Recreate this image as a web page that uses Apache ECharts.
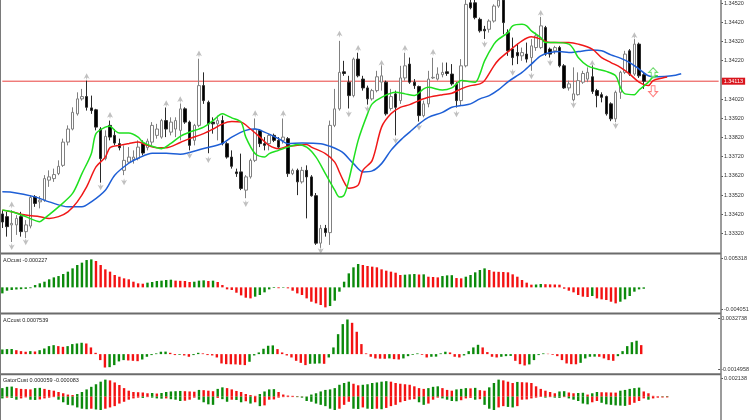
<!DOCTYPE html>
<html lang="en">
<head>
<meta charset="UTF-8">
<title>Alligator chart</title>
<style>
  html, body { margin: 0; padding: 0; background: #fff; }
  #main { width: 752px; height: 420px; }
</style>
</head>
<body>
<div id="main"></div>
<script src="https://cdn.jsdelivr.net/npm/echarts@6.0.0/dist/echarts.min.js"></script>
<script>
// ---- price candles (one per bar) ----
var opens = [1.33422,1.33408,1.33365,1.33365,1.33408,1.33330,1.33359,1.33511,1.33485,1.33494,
  1.33598,1.33606,1.33632,1.33675,1.33796,1.33864,1.33943,1.34021,1.34033,1.33974,
  1.33964,1.33864,1.33710,1.33883,1.33831,1.33788,1.33649,1.33692,1.33705,1.33710,
  1.33788,1.33767,1.33796,1.33831,1.33822,1.33908,1.33848,1.33864,1.33857,1.33969,
  1.33900,1.33805,1.33883,1.34090,1.34003,1.33900,1.33891,1.33908,1.33788,1.33718,
  1.33641,1.33641,1.33546,1.33615,1.33701,1.33857,1.33788,1.33788,1.33831,1.33805,
  1.33805,1.33814,1.33632,1.33649,1.33589,1.33649,1.33615,1.33517,1.33270,1.33347,
  1.33325,1.33883,1.33969,1.34162,1.34108,1.34038,1.34228,1.34124,1.34078,1.34021,
  1.34064,1.34108,1.34108,1.33971,1.34047,1.34012,1.34130,1.34202,1.34108,1.34085,
  1.33934,1.33995,1.34130,1.34124,1.34147,1.34162,1.34150,1.34099,1.34012,1.34193,
  1.34521,1.34521,1.34435,1.34383,1.34383,1.34426,1.34504,1.34535,1.34366,1.34281,
  1.34262,1.34245,1.34254,1.34236,1.34288,1.34288,1.34392,1.34280,1.34271,1.34288,
  1.34193,1.34078,1.34016,1.34043,1.34108,1.34124,1.34136,1.34064,1.34043,1.34033,
  1.33995,1.33917,1.34055,1.34159,1.34271,1.34150,1.34306,1.34147];
var highs = [1.33442,1.33433,1.33442,1.33416,1.33433,1.33390,1.33520,1.33520,1.33515,1.33624,
  1.33649,1.33658,1.33701,1.33814,1.33883,1.33977,1.34055,1.34073,1.34116,1.34038,
  1.33969,1.33874,1.33857,1.33908,1.33864,1.33814,1.33779,1.33770,1.33753,1.33805,
  1.33805,1.33814,1.33900,1.33891,1.33917,1.33976,1.33925,1.33925,1.33997,1.33977,
  1.33908,1.33891,1.34230,1.34159,1.34012,1.33925,1.33934,1.33934,1.33796,1.33753,
  1.33658,1.33736,1.33624,1.33710,1.33919,1.33864,1.33822,1.33840,1.33840,1.33822,
  1.33919,1.33822,1.33658,1.33658,1.33667,1.33675,1.33624,1.33531,1.33365,1.33365,
  1.33908,1.34073,1.34323,1.34219,1.34141,1.34236,1.34261,1.34141,1.34090,1.34073,
  1.34167,1.34196,1.34116,1.34073,1.34064,1.34193,1.34261,1.34236,1.34124,1.34090,
  1.34012,1.34167,1.34235,1.34185,1.34210,1.34210,1.34202,1.34108,1.34228,1.34540,
  1.34540,1.34540,1.34444,1.34401,1.34435,1.34513,1.34560,1.34560,1.34383,1.34340,
  1.34308,1.34288,1.34314,1.34332,1.34366,1.34447,1.34401,1.34288,1.34297,1.34297,
  1.34202,1.34116,1.34185,1.34159,1.34167,1.34185,1.34196,1.34073,1.34055,1.34038,
  1.34003,1.34064,1.34167,1.34271,1.34280,1.34332,1.34314,1.34159];
var lows = [1.33349,1.33304,1.33276,1.33313,1.33304,1.33297,1.33347,1.33459,1.33451,1.33485,
  1.33563,1.33589,1.33624,1.33667,1.33779,1.33857,1.33934,1.34012,1.33960,1.33943,
  1.33857,1.33585,1.33701,1.33805,1.33779,1.33753,1.33624,1.33684,1.33684,1.33701,
  1.33727,1.33753,1.33779,1.33814,1.33814,1.33822,1.33831,1.33822,1.33805,1.33891,
  1.33753,1.33779,1.33874,1.33995,1.33738,1.33840,1.33805,1.33779,1.33710,1.33658,
  1.33615,1.33546,1.33504,1.33606,1.33692,1.33770,1.33753,1.33753,1.33796,1.33762,
  1.33788,1.33615,1.33624,1.33520,1.33580,1.33399,1.33512,1.33261,1.33245,1.33304,
  1.33261,1.33874,1.33960,1.34141,1.33971,1.34029,1.34133,1.34064,1.33991,1.34012,
  1.34055,1.34064,1.33934,1.33960,1.33831,1.33995,1.34116,1.34099,1.34073,1.33903,
  1.33925,1.33977,1.34124,1.34116,1.34133,1.34141,1.34090,1.33976,1.33985,1.34185,
  1.34487,1.34435,1.34366,1.34333,1.34366,1.34418,1.34495,1.34357,1.34245,1.34196,
  1.34202,1.34219,1.34210,1.34167,1.34271,1.34280,1.34245,1.34236,1.34254,1.34185,
  1.34073,1.34064,1.34008,1.34038,1.34099,1.34108,1.34047,1.33977,1.34003,1.33934,
  1.33905,1.33901,1.34021,1.34150,1.34141,1.34141,1.34130,1.34073];
var closes = [1.33380,1.33356,1.33373,1.33399,1.33330,1.33365,1.33508,1.33477,1.33494,1.33606,
  1.33615,1.33627,1.33670,1.33796,1.33864,1.33951,1.34021,1.34033,1.33977,1.33960,
  1.33874,1.33710,1.33826,1.33822,1.33791,1.33767,1.33701,1.33718,1.33718,1.33770,
  1.33739,1.33801,1.33883,1.33864,1.33908,1.33864,1.33900,1.33908,1.33969,1.33900,
  1.33779,1.33883,1.34090,1.34012,1.33891,1.33891,1.33908,1.33788,1.33718,1.33670,
  1.33632,1.33555,1.33615,1.33701,1.33864,1.33788,1.33779,1.33831,1.33805,1.33770,
  1.33822,1.33632,1.33649,1.33589,1.33649,1.33615,1.33517,1.33270,1.33347,1.33325,
  1.33883,1.33969,1.34159,1.34153,1.34038,1.34228,1.34141,1.34078,1.34021,1.34064,
  1.34136,1.34141,1.33943,1.34033,1.33977,1.34130,1.34193,1.34108,1.34090,1.33934,
  1.33995,1.34124,1.34133,1.34150,1.34159,1.34153,1.34099,1.34012,1.34193,1.34513,
  1.34495,1.34444,1.34375,1.34375,1.34426,1.34504,1.34535,1.34418,1.34271,1.34236,
  1.34245,1.34262,1.34228,1.34297,1.34349,1.34401,1.34254,1.34254,1.34288,1.34193,
  1.34078,1.34099,1.34047,1.34116,1.34153,1.34159,1.34060,1.34038,1.34029,1.33943,
  1.33917,1.34055,1.34159,1.34254,1.34150,1.34306,1.34141,1.34113];

// ---- alligator lines: [bar slot, price] ----
var jaw = [[0,1.33537],[2,1.33535],[7,1.33511],[10,1.33485],[14,1.33459],[17,1.33459],[19,1.33485],[22,1.33546],
  [24,1.33624],[27,1.33686],[29,1.33712],[32,1.33738],[35,1.33738],[38,1.33733],[43,1.33763],[47,1.33789],
  [49,1.33822],[52,1.33857],[54,1.33864],[56,1.33848],[59,1.33814],[61,1.33788],[64,1.33791],[68,1.33788],
  [70,1.33774],[72,1.33753],[73,1.33736],[75,1.33684],[77,1.33641],[79,1.33646],[81,1.33684],[83,1.33753],
  [85,1.33805],[87,1.33848],[89,1.33891],[91,1.33925],[94,1.33951],[96,1.33977],[98,1.33986],[100,1.33995],
  [102,1.34021],[104,1.34038],[106,1.34069],[108,1.34110],[111,1.34159],[113,1.34202],[115,1.34245],[117,1.34262],
  [119,1.34267],[121,1.34262],[123,1.34267],[126,1.34276],[128,1.34271],[130,1.34250],[132,1.34233],[134,1.34210],
  [136,1.34176],[138,1.34141],[140,1.34136],[143,1.34141],[145,1.34152]];
var teeth = [[0,1.33442],[2,1.33433],[5,1.33416],[8,1.33408],[10,1.33399],[12,1.33408],[14,1.33433],[16,1.33485],
  [18,1.33563],[20,1.33667],[22,1.33718],[23,1.33767],[25,1.33779],[27,1.33788],[29,1.33796],[31,1.33779],
  [33,1.33767],[35,1.33767],[38,1.33794],[40,1.33814],[43,1.33840],[45,1.33864],[47,1.33891],[49,1.33903],
  [51,1.33900],[53,1.33864],[55,1.33822],[57,1.33779],[59,1.33762],[61,1.33774],[63,1.33779],[65,1.33784],
  [66,1.33770],[69,1.33736],[71,1.33692],[72,1.33639],[73,1.33588],[74,1.33556],[76,1.33572],[77,1.33649],
  [79,1.33701],[81,1.33874],[83,1.33943],[85,1.33977],[87,1.33991],[89,1.34012],[91,1.34029],[94,1.34043],
  [96,1.34050],[98,1.34073],[100,1.34090],[102,1.34099],[103,1.34116],[105,1.34193],[106,1.34224],[108,1.34266],
  [111,1.34323],[113,1.34344],[115,1.34332],[117,1.34314],[119,1.34314],[121,1.34314],[123,1.34306],[126,1.34280],
  [128,1.34236],[130,1.34210],[132,1.34185],[134,1.34150],[136,1.34108],[138,1.34090],[139,1.34116],[141,1.34130],
  [142,1.34135]];
var lips = [[0,1.33442],[2,1.33433],[5,1.33408],[8,1.33382],[9,1.33399],[12,1.33459],[15,1.33529],[17,1.33632],
  [19,1.33736],[20,1.33840],[22,1.33874],[23,1.33879],[24,1.33857],[25,1.33843],[27,1.33843],[29,1.33822],
  [30,1.33796],[32,1.33774],[34,1.33762],[36,1.33789],[38,1.33826],[40,1.33848],[43,1.33874],[45,1.33908],
  [47,1.33943],[48,1.33934],[49,1.33922],[51,1.33900],[52,1.33822],[54,1.33736],[56,1.33718],[57,1.33736],
  [59,1.33753],[61,1.33770],[63,1.33784],[65,1.33770],[67,1.33718],[69,1.33632],[71,1.33546],[72,1.33510],
  [73,1.33520],[74,1.33598],[76,1.33805],[78,1.33943],[79,1.33995],[81,1.34029],[84,1.34055],[86,1.34047],
  [88,1.34038],[90,1.34073],[91,1.34081],[94,1.34067],[96,1.34078],[97,1.34099],[98,1.34116],[101,1.34108],
  [102,1.34150],[103,1.34219],[105,1.34306],[106,1.34332],[108,1.34366],[109,1.34401],[111,1.34409],[112,1.34401],
  [113,1.34375],[115,1.34340],[116,1.34314],[118,1.34314],[121,1.34306],[122,1.34280],[123,1.34236],[125,1.34193],
  [127,1.34176],[129,1.34164],[131,1.34141],[132,1.34081],[133,1.34047],[135,1.34043],[136,1.34067],[138,1.34108],
  [139,1.34136],[140,1.34141]];

// fractal markers and the last signal arrows
var fracUp = [[2,1.33468],[18,1.34136],[23,1.33934],[35,1.33995],[38,1.34016],[42,1.34254],[54,1.33943],[60,1.33943],
  [72,1.34358],[76,1.34283],[81,1.34205],[86,1.34283],[92,1.34262],[115,1.34466],[126,1.34205],[135,1.34349]];
var fracDown = [[2,1.33252],[5,1.33278],[21,1.33563],[26,1.33589],[40,1.33727],[44,1.33705],[52,1.33477],[68,1.33232],
  [74,1.33943],[78,1.33969],[84,1.33805],[89,1.33874],[97,1.33943],[103,1.34306],[109,1.34159],[113,1.34141],
  [117,1.34210],[122,1.33991],[131,1.33883]];
var sigUp = [[139,1.34157]];
var sigDown = [[139,1.34061]];

// ---- oscillators ----
var ao = [-0.00099,-0.00055,-0.00044,-0.00035,-0.00030,-0.00025,-0.00014,0.00038,0.00066,0.00093,
  0.00132,0.00164,0.00186,0.00219,0.00258,0.00312,0.00367,0.00406,0.00449,0.00460,
  0.00433,0.00367,0.00296,0.00258,0.00203,0.00175,0.00148,0.00132,0.00093,0.00066,
  0.00060,0.00077,0.00088,0.00104,0.00110,0.00121,0.00126,0.00110,0.00107,0.00104,
  0.00088,0.00093,0.00110,0.00115,0.00104,0.00110,0.00088,0.00038,-0.00033,-0.00044,
  -0.00088,-0.00132,-0.00170,-0.00181,-0.00153,-0.00126,-0.00082,-0.00033,-0.00011,-0.00014,
  -0.00008,-0.00016,-0.00055,-0.00099,-0.00126,-0.00181,-0.00236,-0.00263,-0.00290,-0.00329,
  -0.00307,-0.00219,-0.00071,0.00093,0.00230,0.00329,0.00384,0.00367,0.00351,0.00340,
  0.00329,0.00296,0.00274,0.00258,0.00241,0.00203,0.00208,0.00214,0.00219,0.00211,
  0.00214,0.00175,0.00170,0.00164,0.00186,0.00197,0.00200,0.00153,0.00148,0.00175,
  0.00203,0.00247,0.00285,0.00312,0.00285,0.00258,0.00255,0.00252,0.00247,0.00214,
  0.00175,0.00121,0.00077,0.00044,0.00047,0.00055,0.00052,0.00049,0.00047,0.00044,
  -0.00022,-0.00055,-0.00082,-0.00126,-0.00153,-0.00159,-0.00142,-0.00181,-0.00197,-0.00208,
  -0.00236,-0.00263,-0.00236,-0.00197,-0.00142,-0.00071,-0.00033,-0.000227];
var ac = [0.00039,0.00042,0.00043,0.00033,0.00025,0.00020,0.00025,0.00022,0.00033,0.00047,
  0.00067,0.00075,0.00067,0.00061,0.00067,0.00084,0.00089,0.00095,0.00089,0.00056,
  0.00011,-0.00050,-0.00112,-0.00109,-0.00092,-0.00061,-0.00050,-0.00053,-0.00056,-0.00059,
  -0.00045,-0.00022,-0.00008,0.00006,0.00020,0.00021,0.00011,-0.00008,-0.00006,-0.00011,
  -0.00022,-0.00008,0.00011,0.00006,-0.00008,-0.00011,-0.00028,-0.00078,-0.00084,-0.00085,
  -0.00086,-0.00089,-0.00092,-0.00064,-0.00011,0.00014,0.00045,0.00070,0.00073,0.00042,
  0.00014,-0.00011,-0.00028,-0.00056,-0.00073,-0.00092,-0.00081,-0.00080,-0.00078,-0.00081,
  -0.00028,0.00056,0.00167,0.00251,0.00290,0.00262,0.00187,0.00084,0.00006,-0.00022,
  -0.00036,-0.00038,-0.00039,-0.00036,-0.00042,-0.00045,-0.00036,-0.00017,-0.00006,0.00006,
  -0.00006,-0.00028,-0.00022,-0.00021,0.00006,0.00020,0.00014,-0.00022,-0.00028,-0.00011,
  0.00025,0.00056,0.00078,0.00056,0.00017,-0.00022,-0.00028,-0.00022,-0.00017,-0.00015,
  -0.00056,-0.00084,-0.00095,-0.00086,-0.00050,-0.00008,0.00006,0.00003,-0.00006,-0.00017,
  -0.00050,-0.00078,-0.00084,-0.00085,-0.00073,-0.00036,-0.00022,-0.00021,-0.00022,-0.00036,
  -0.00050,-0.00056,-0.00017,0.00025,0.00067,0.00100,0.00112,0.0007539];
var gatorUp = [0.000881,0.001015,0.001041,0.000881,0.000801,0.000774,0.000748,0.000881,0.000908,0.000801,
  0.000694,0.000614,0.000481,0.000347,0.000214,0.000160,0.000267,0.000481,0.000748,0.001015,
  0.001282,0.001549,0.001762,0.001682,0.001469,0.001202,0.000881,0.000614,0.000481,0.000454,
  0.000427,0.000347,0.000374,0.000320,0.000374,0.000481,0.000534,0.000561,0.000587,0.000561,
  0.000534,0.000507,0.000694,0.000668,0.000614,0.000561,0.000801,0.000961,0.000881,0.000748,
  0.000587,0.000481,0.000267,0.000160,0.000080,0.000267,0.000534,0.000748,0.000774,0.000481,
  0.000214,0.000107,0.000080,0.000053,0.000027,0.000013,0.000214,0.000347,0.000534,0.000694,
  0.000748,0.000881,0.001228,0.001415,0.001549,0.001335,0.001175,0.001228,0.001282,0.001415,
  0.001469,0.001549,0.001602,0.001549,0.001415,0.001335,0.001282,0.001228,0.001068,0.000881,
  0.000801,0.000881,0.001015,0.001068,0.000881,0.000694,0.000614,0.000748,0.000801,0.000881,
  0.000854,0.000908,0.000668,0.000614,0.000961,0.001415,0.001762,0.001682,0.001549,0.001415,
  0.001522,0.001495,0.001469,0.001415,0.001068,0.000801,0.000614,0.000481,0.000347,0.000534,
  0.000561,0.000427,0.000347,0.000374,0.000400,0.000214,0.000347,0.000481,0.000454,0.000441,
  0.000427,0.000414,0.000614,0.000694,0.000801,0.000881,0.000935,0.000534,0.000347,0.000080,
  0.000040,0.000048,0.000059];
var gatorDown = [-0.000187,-0.000107,-0.000134,-0.000320,-0.000187,-0.000080,-0.000320,-0.000347,-0.000294,-0.000187,
  -0.000107,-0.000053,-0.000320,-0.000587,-0.000854,-0.000908,-0.001121,-0.001255,-0.001308,-0.001255,
  -0.001335,-0.001388,-0.001255,-0.001121,-0.000988,-0.000721,-0.000534,-0.000320,-0.000187,-0.000107,
  -0.000134,-0.000053,-0.000107,-0.000187,-0.000214,-0.000187,-0.000267,-0.000320,-0.000454,-0.000427,
  -0.000320,-0.000107,-0.000320,-0.000587,-0.000801,-0.000854,-0.000134,-0.000267,-0.000534,-0.000320,
  -0.000347,-0.000587,-0.000481,-0.000721,-0.000587,-0.000988,-0.000908,-0.000320,-0.000294,-0.000107,
  -0.000053,-0.000050,-0.000048,-0.000055,-0.000107,-0.000454,-0.000534,-0.000721,-0.000854,-0.000988,
  -0.001255,-0.001388,-0.001255,-0.000854,-0.000534,-0.001255,-0.001282,-0.001121,-0.001255,-0.001282,
  -0.001255,-0.001308,-0.001175,-0.000988,-0.000854,-0.000587,-0.000454,-0.000320,-0.000267,-0.000587,
  -0.000854,-0.000721,-0.000320,-0.000107,-0.000187,-0.000320,-0.000454,-0.000481,-0.000374,-0.000187,
  -0.000134,-0.000320,-0.000267,-0.000854,-0.001255,-0.001388,-0.001121,-0.000988,-0.001068,-0.001121,
  -0.000988,-0.000320,-0.000294,-0.000187,-0.000107,-0.000027,-0.000107,-0.000053,-0.000107,-0.000134,
  -0.000053,-0.000187,-0.000320,-0.000454,-0.000721,-0.000801,-0.000587,-0.000454,-0.000641,-0.000801,
  -0.000854,-0.000908,-0.000935,-0.000961,-0.000854,-0.000641,-0.000454,-0.000187,-0.000320,-0.000187,
  -0.000107,-0.000093,-0.000083];

// axis ranges and tick labels
var priceTicks = [1.33320,1.33420,1.33520,1.33620,1.33720,1.33820,1.33920,1.34020,1.34220,1.34320,1.34420,1.34520];
var priceRange = [1.33224, 1.34530];
var aoRange = [-0.004051, 0.005318];
var acRange = [-0.0014958, 0.0032738];
var gatorRange = [-0.002426, 0.002138];

var NSLOT = 154;
var slots = [];
for (var s = 0; s < NSLOT; s++) slots.push(String(s));

var GREEN = '#0b8a0b', RED = '#f31212';
var FONT = 'Liberation Sans';
var PANEL_H = 57;
var PRICE_RED = '#e8403e';

function upDownColor(arr, useAbs) {
  return function (p) {
    var i = p.dataIndex;
    if (i === 0) return GREEN;
    var a = arr[i], b = arr[i - 1];
    if (useAbs) { a = Math.abs(a); b = Math.abs(b); }
    return a > b ? GREEN : RED;
  };
}

function xAx(gi) {
  return { type: 'category', gridIndex: gi, data: slots, boundaryGap: true, show: false };
}

// sub panel scale: labels for max / min sit just inside the panel edge
function subY(gi, range, showMin) {
  var px = (range[1] - range[0]) / PANEL_H;
  var marks = [range[1] - 3 * px];
  var texts = [String(range[1])];
  if (showMin) { marks.push(range[0] + 3 * px); texts.push(String(range[0])); }
  return {
    type: 'value', gridIndex: gi, position: 'right', min: range[0], max: range[1],
    splitLine: { show: false }, axisLine: { show: false },
    axisTick: { show: true, length: 2, customValues: marks, lineStyle: { color: '#555' } },
    axisLabel: {
      customValues: marks, margin: 3, fontSize: 5.5, color: '#333', fontFamily: FONT,
      formatter: function (v) {
        return Math.abs(v - marks[0]) < px ? texts[0] : texts[1];
      }
    }
  };
}

var candles = opens.map(function (o, i) { return [o, closes[i], lows[i], highs[i]]; });
var last = closes[closes.length - 1];

var arrowUp = 'path://M5,0 L10,8 L6.2,6.2 L5,10 L3.8,6.2 L0,8 Z';
var blockUp = 'path://M6,0 L12,6 L8.5,6 L8.5,13 L3.5,13 L3.5,6 L0,6 Z';

var titleStyle = { fontSize: 5.5, fontWeight: 'normal', color: '#222', fontFamily: FONT };

var chart = echarts.init(document.getElementById('main'), null, { renderer: 'canvas' });
chart.setOption({
  animation: false,
  backgroundColor: '#ffffff',
  textStyle: { fontFamily: FONT },
  title: [
    { text: 'AOcust ' + ao[ao.length - 1].toFixed(6), left: 3, top: 257, padding: 0, textStyle: titleStyle },
    { text: 'ACcust ' + ac[ac.length - 1].toFixed(7), left: 3, top: 317, padding: 0, textStyle: titleStyle },
    { text: 'GatorCust ' + gatorUp[gatorUp.length - 1].toFixed(6) + ' ' + gatorDown[gatorDown.length - 1].toFixed(6),
      left: 3, top: 377, padding: 0, textStyle: titleStyle }
  ],
  grid: [
    { left: 0, top: 0, width: 721, height: 252 },
    { left: 0, top: 255, width: 721, height: PANEL_H },
    { left: 0, top: 315, width: 721, height: PANEL_H },
    { left: 0, top: 376, width: 721, height: PANEL_H }
  ],
  xAxis: [xAx(0), xAx(1), xAx(2), xAx(3)],
  yAxis: [
    {
      type: 'value', gridIndex: 0, position: 'right', min: priceRange[0], max: priceRange[1],
      splitLine: { show: false }, axisLine: { show: false },
      axisTick: { show: true, length: 2, customValues: priceTicks, lineStyle: { color: '#555' } },
      axisLabel: {
        customValues: priceTicks, margin: 3, fontSize: 5.5, color: '#333', fontFamily: FONT,
        formatter: function (v) { return v.toFixed(5); }
      }
    },
    subY(1, aoRange, true),
    subY(2, acRange, true),
    subY(3, gatorRange, false)
  ],
  graphic: [
    { type: 'rect', silent: true, z: 50, shape: { x: 0, y: 252.5, width: 721, height: 2 }, style: { fill: '#6b6b6b' } },
    { type: 'rect', silent: true, z: 50, shape: { x: 0, y: 312.5, width: 721, height: 2 }, style: { fill: '#6b6b6b' } },
    { type: 'rect', silent: true, z: 50, shape: { x: 0, y: 373.2, width: 721, height: 2 }, style: { fill: '#6b6b6b' } },
    { type: 'line', silent: true, z: 50, shape: { x1: 721, y1: 0, x2: 721, y2: 420 }, style: { stroke: '#7a7a7a', lineWidth: 1.5 } },
    { type: 'line', silent: true, z: 50, shape: { x1: 0.5, y1: 0, x2: 0.5, y2: 420 }, style: { stroke: '#7a7a7a', lineWidth: 1 } }
  ],
  series: [
    {
      type: 'candlestick', xAxisIndex: 0, yAxisIndex: 0, data: candles, barWidth: 3, clip: true,
      itemStyle: { color: '#ffffff', color0: '#000000', borderColor: '#808080', borderColor0: '#2a2a2a', borderWidth: 1 }
    },
    // current price line with its tag on the price scale
    { type: 'line', name: 'price', xAxisIndex: 0, yAxisIndex: 0, data: [[0, last], [NSLOT - 1, last]],
      showSymbol: false, symbol: 'none', silent: true, z: 2,
      lineStyle: { color: PRICE_RED, width: 1 },
      endLabel: {
        show: true, distance: 3, formatter: function () { return last.toFixed(5); },
        backgroundColor: '#d9141c', color: '#fff', fontSize: 5.5, padding: [1, 2, 0, 2], fontFamily: FONT
      }
    },
    { type: 'line', name: 'jaw', xAxisIndex: 0, yAxisIndex: 0, data: jaw, showSymbol: false, smooth: 0.3,
      lineStyle: { color: '#1e5fd6', width: 1.5 }, z: 3 },
    { type: 'line', name: 'teeth', xAxisIndex: 0, yAxisIndex: 0, data: teeth, showSymbol: false, smooth: 0.3,
      lineStyle: { color: '#f01818', width: 1.5 }, z: 3 },
    { type: 'line', name: 'lips', xAxisIndex: 0, yAxisIndex: 0, data: lips, showSymbol: false, smooth: 0.3,
      lineStyle: { color: '#1fe01f', width: 1.5 }, z: 3 },
    { type: 'scatter', xAxisIndex: 0, yAxisIndex: 0, data: fracUp, symbol: arrowUp, symbolSize: [6, 7],
      itemStyle: { color: '#b0b0b0' }, z: 4 },
    { type: 'scatter', xAxisIndex: 0, yAxisIndex: 0, data: fracDown, symbol: arrowUp, symbolSize: [6, 7], symbolRotate: 180,
      itemStyle: { color: '#b0b0b0' }, z: 4 },
    { type: 'scatter', xAxisIndex: 0, yAxisIndex: 0, data: sigUp, symbol: blockUp, symbolSize: [9, 10],
      itemStyle: { color: 'rgba(255,255,255,0.5)', borderColor: '#4fd24f', borderWidth: 1 }, z: 5 },
    { type: 'scatter', xAxisIndex: 0, yAxisIndex: 0, data: sigDown, symbol: blockUp, symbolSize: [9, 11], symbolRotate: 180,
      itemStyle: { color: 'rgba(255,255,255,0.5)', borderColor: '#ff5a5a', borderWidth: 1 }, z: 5 },
    { type: 'bar', xAxisIndex: 1, yAxisIndex: 1, data: ao, barWidth: 2.4,
      itemStyle: { color: upDownColor(ao, false) } },
    { type: 'bar', xAxisIndex: 2, yAxisIndex: 2, data: ac, barWidth: 2.4,
      itemStyle: { color: upDownColor(ac, false) } },
    { type: 'bar', xAxisIndex: 3, yAxisIndex: 3, data: gatorUp, barWidth: 2.4, barGap: '-100%',
      itemStyle: { color: upDownColor(gatorUp, false) } },
    { type: 'bar', xAxisIndex: 3, yAxisIndex: 3, data: gatorDown, barWidth: 2.4, barGap: '-100%',
      itemStyle: { color: upDownColor(gatorDown, true) } }
  ]
});
</script>
</body>
</html>
